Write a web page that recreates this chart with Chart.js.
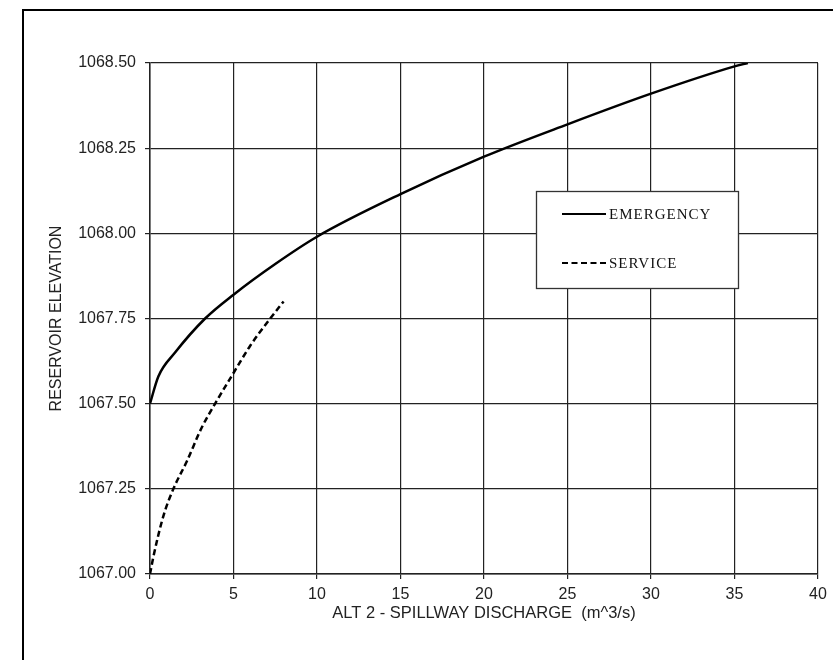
<!DOCTYPE html>
<html>
<head>
<meta charset="utf-8">
<script src="https://cdn.jsdelivr.net/npm/chart.js@4/dist/chart.umd.min.js"></script>
<style>
  html, body { margin: 0; padding: 0; background: #fff; }
  #wrap { position: relative; width: 833px; height: 660px; overflow: hidden; }
  #frame { position: absolute; left: 22px; top: 9px; width: 900px; height: 800px;
           border-left: 2px solid #000; border-top: 2px solid #000; }
  canvas { position: absolute; left: 0; top: 0; }
</style>
</head>
<body>
<div id="wrap">
  <div id="frame"></div>
  <canvas id="c" width="833" height="660"></canvas>
</div>
<script>
// ---- data ----
const emergencyQ    = [0, 0.5, 1.5, 3.3, 5.0, 7.5, 10.0, 15.0, 20.0, 25.0, 30.0, 35.0, 35.8];
const emergencyElev = [1067.50, 1067.58, 1067.65, 1067.75, 1067.82, 1067.91, 1067.99, 1068.115, 1068.225, 1068.32, 1068.41, 1068.49, 1068.50];

const serviceQ    = [0, 0.2, 0.8, 1.4, 2.2, 3.1, 3.9, 5.0, 6.0, 7.2, 8.0];
const serviceElev = [1067.00, 1067.05, 1067.17, 1067.25, 1067.33, 1067.43, 1067.50, 1067.59, 1067.67, 1067.75, 1067.80];

const seriesLabels = ['EMERGENCY', 'SERVICE'];
const xTicks = [0, 5, 10, 15, 20, 25, 30, 35, 40];
const yTicks = [1067.00, 1067.25, 1067.50, 1067.75, 1068.00, 1068.25, 1068.50];
const xTitle = 'ALT 2 - SPILLWAY DISCHARGE  (m^3/s)';
const yTitle = 'RESERVOIR ELEVATION';

const toPts = (xs, ys) => xs.map((x, i) => ({ x: x, y: ys[i] }));

const legendBox = {
  id: 'legendBox',
  afterDatasetsDraw(chart) {
    const ctx = chart.ctx;
    ctx.save();
    const bx = 536.5, by = 191.5, bw = 202, bh = 97;
    ctx.fillStyle = '#fff';
    ctx.fillRect(bx, by, bw, bh);
    ctx.strokeStyle = '#333';
    ctx.lineWidth = 1.3;
    ctx.strokeRect(bx, by, bw, bh);
    const rows = [214, 263];
    chart.data.datasets.forEach((ds, i) => {
      const y = rows[i];
      ctx.beginPath();
      ctx.setLineDash(ds.borderDash || []);
      ctx.strokeStyle = '#000';
      ctx.lineWidth = 2.2;
      ctx.moveTo(562, y);
      ctx.lineTo(606, y);
      ctx.stroke();
      ctx.setLineDash([]);
      ctx.fillStyle = '#111';
      ctx.font = '15px "Liberation Serif", "DejaVu Serif", serif';
      try { ctx.letterSpacing = '1px'; } catch (e) {}
      ctx.textBaseline = 'middle';
      ctx.textAlign = 'left';
      ctx.fillText(ds.label, 609, y + 1);
    });
    ctx.restore();
  }
};

const tickFont = { family: '"Liberation Sans", Arial, sans-serif', size: 16 };
const xTitleFont = { family: '"Liberation Sans", Arial, sans-serif', size: 16.5 };
const yTitleFont = { family: '"Liberation Sans", Arial, sans-serif', size: 16 };

new Chart(document.getElementById('c'), {
  type: 'scatter',
  data: {
    datasets: [
      { label: seriesLabels[0], data: toPts(emergencyQ, emergencyElev), showLine: true,
        borderColor: '#000', borderWidth: 2.5, pointRadius: 0, cubicInterpolationMode: 'monotone', fill: false },
      { label: seriesLabels[1], data: toPts(serviceQ, serviceElev), showLine: true,
        borderColor: '#000', borderWidth: 2.5, borderDash: [6, 3.5], pointRadius: 0, cubicInterpolationMode: 'monotone', fill: false }
    ]
  },
  options: {
    responsive: false,
    animation: false,
    devicePixelRatio: 1,
    layout: { padding: { top: 63, right: 15, left: 0, bottom: 0 } },
    plugins: { legend: { display: false }, tooltip: { enabled: false } },
    scales: {
      x: {
        type: 'linear', min: xTicks[0], max: xTicks[xTicks.length - 1],
        afterBuildTicks: s => { s.ticks = xTicks.map(v => ({ value: v })); },
        afterFit: s => { s.height = 86; },
        ticks: { color: '#222', font: tickFont, padding: 6, maxRotation: 0, callback: v => String(v) },
        grid: { color: '#222', lineWidth: 1.2, tickLength: 5 },
        border: { color: '#222', width: 1.5 },
        title: { display: true, text: xTitle, color: '#222', font: xTitleFont, padding: { top: 0, bottom: 37 } }
      },
      y: {
        type: 'linear', min: yTicks[0], max: yTicks[yTicks.length - 1],
        afterBuildTicks: s => { s.ticks = yTicks.map(v => ({ value: v })); },
        afterFit: s => { s.width = 150; },
        ticks: { color: '#222', font: tickFont, padding: 9, callback: v => Number(v).toFixed(2) },
        grid: { color: '#222', lineWidth: 1.2, tickLength: 5 },
        border: { color: '#222', width: 1.5 },
        title: { display: true, text: yTitle, color: '#222', font: yTitleFont, padding: { top: 47, bottom: 0 } }
      }
    }
  },
  plugins: [legendBox]
});
</script>
</body>
</html>
